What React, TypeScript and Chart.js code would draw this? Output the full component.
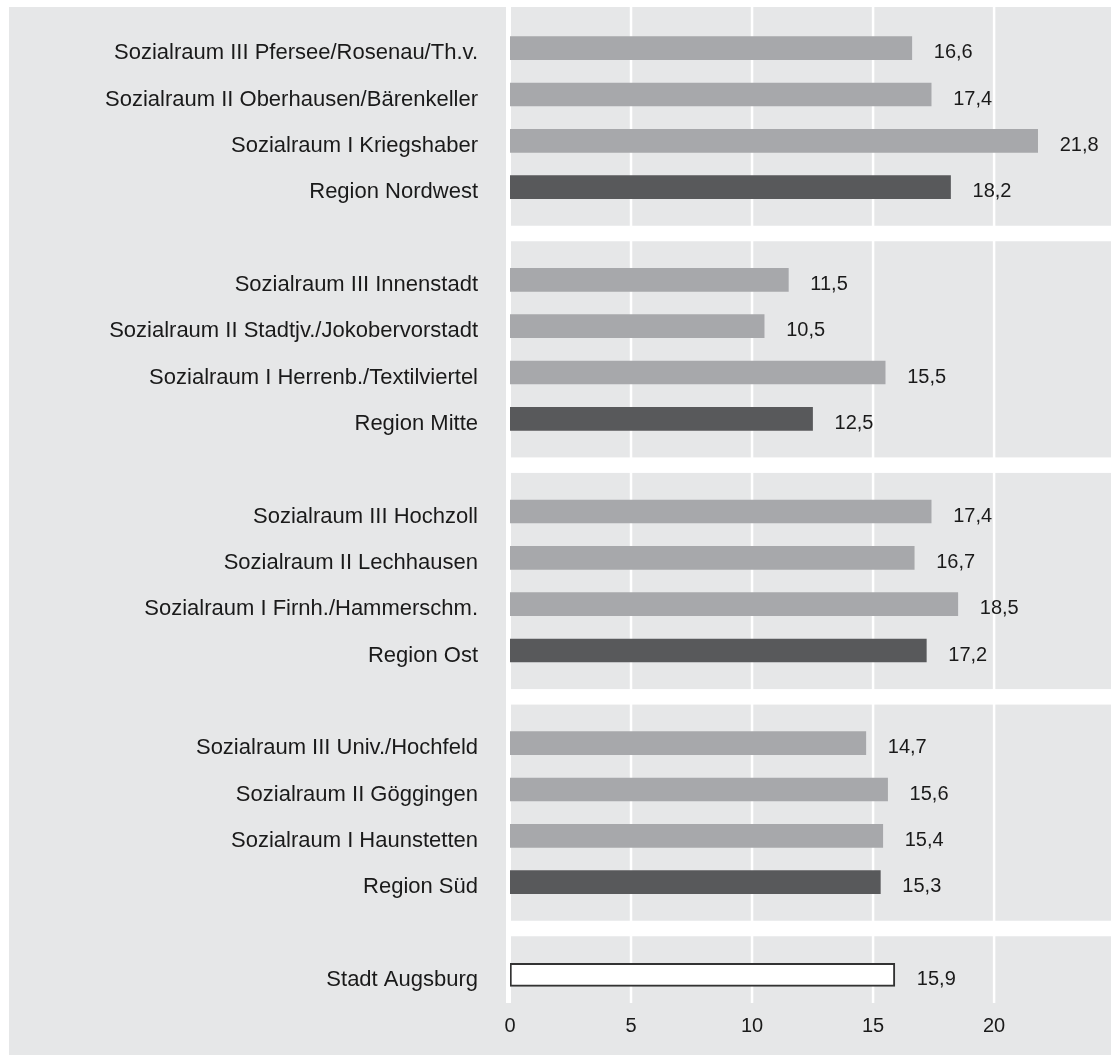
import React, { useEffect, useRef } from "react";
import { Chart, registerables } from "chart.js";

Chart.register(...registerables);

const categories = [
  "Sozialraum III Pfersee/Rosenau/Th.v.",
  "Sozialraum II Oberhausen/Bärenkeller",
  "Sozialraum I Kriegshaber",
  "Region Nordwest",
  "",
  "Sozialraum III Innenstadt",
  "Sozialraum II Stadtjv./Jokobervorstadt",
  "Sozialraum I Herrenb./Textilviertel",
  "Region Mitte",
  "",
  "Sozialraum III Hochzoll",
  "Sozialraum II Lechhausen",
  "Sozialraum I Firnh./Hammerschm.",
  "Region Ost",
  "",
  "Sozialraum III Univ./Hochfeld",
  "Sozialraum II Göggingen",
  "Sozialraum I Haunstetten",
  "Region Süd",
  "",
  "Stadt Augsburg",
];

const values: (number | null)[] = [
  16.6, 17.4, 21.8, 18.2, null,
  11.5, 10.5, 15.5, 12.5, null,
  17.4, 16.7, 18.5, 17.2, null,
  14.7, 15.6, 15.4, 15.3, null,
  15.9,
];

const kinds = [
  "sub", "sub", "sub", "region", "gap",
  "sub", "sub", "sub", "region", "gap",
  "sub", "sub", "sub", "region", "gap",
  "sub", "sub", "sub", "region", "gap",
  "city",
];

const xTicks = [0, 5, 10, 15, 20];

const BG = "#e6e7e8";
const LIGHT = "#a7a8ab";
const DARK = "#58595b";
const TEXT = "#1a1a1a";
const FONT = "'Liberation Sans', Arial, Helvetica, sans-serif";

const fmt = (v: number) => v.toFixed(1).replace(".", ",");

export default function App() {
  const ref = useRef<HTMLCanvasElement | null>(null);

  useEffect(() => {
    if (!ref.current) return;

    const decor = {
      id: "decor",
      beforeDatasetsDraw(chart: any) {
        const { ctx, scales } = chart;
        const x = scales.x;
        const y = scales.y;
        const px0 = x.getPixelForValue(0);
        const top = 0;
        const bottom = chart.chartArea.bottom + 5;
        ctx.save();
        ctx.fillStyle = "#ffffff";
        xTicks.forEach((t) => {
          const px = x.getPixelForValue(t);
          if (t === 0) ctx.fillRect(px - 4, top, 5, bottom - top);
          else ctx.fillRect(px - 1.25, top, 2.5, bottom - top);
        });
        kinds.forEach((k, i) => {
          if (k === "gap") {
            const py = y.getPixelForValue(i);
            ctx.fillRect(px0 - 4, py - 7.75, chart.width - (px0 - 4), 15.5);
          }
        });
        ctx.restore();
      },
      afterDatasetsDraw(chart: any) {
        const { ctx } = chart;
        const meta = chart.getDatasetMeta(0);
        ctx.save();
        ctx.fillStyle = TEXT;
        ctx.font = `20px ${FONT}`;
        ctx.textAlign = "left";
        ctx.textBaseline = "middle";
        meta.data.forEach((el: any, i: number) => {
          const v = values[i];
          if (v === null || v === undefined) return;
          ctx.fillText(fmt(v), el.x + 22, el.y + 4.5);
        });
        ctx.restore();
      },
    };

    const chart = new Chart(ref.current, {
      type: "bar",
      data: {
        labels: categories,
        datasets: [
          {
            data: values as any,
            backgroundColor: kinds.map((k) =>
              k === "region" ? DARK : k === "city" ? "#ffffff" : LIGHT
            ),
            borderColor: kinds.map((k) => (k === "city" ? "#333333" : "rgba(0,0,0,0)")),
            borderWidth: kinds.map((k) => (k === "city" ? 2 : 0)),
            borderSkipped: false,
            barThickness: 23,
          },
        ],
      },
      options: {
        indexAxis: "y",
        responsive: false,
        animation: false,
        layout: { padding: { top: 18, left: 0, right: 0, bottom: 0 } },
        plugins: {
          legend: { display: false },
          tooltip: { enabled: false },
          title: { display: false },
        },
        scales: {
          x: {
            type: "linear",
            min: 0,
            max: 24.83,
            grid: { display: false, drawTicks: false },
            border: { display: false },
            afterFit: (s: any) => {
              s.height = 57;
              s.paddingLeft = 0;
              s.paddingRight = 0;
            },
            ticks: {
              stepSize: 5,
              includeBounds: false,
              padding: 16,
              color: TEXT,
              font: { family: FONT, size: 20 },
              maxRotation: 0,
              autoSkip: false,
            },
          },
          y: {
            type: "category",
            grid: { display: false, drawTicks: false },
            border: { display: false },
            afterFit: (s: any) => {
              s.width = 501;
              s.paddingTop = 0;
              s.paddingBottom = 0;
            },
            ticks: {
              padding: 32,
              labelOffset: 5,
              color: TEXT,
              autoSkip: false,
              font: { family: FONT, size: 22 },
            },
          },
        },
      },
      plugins: [decor],
    } as any);

    return () => chart.destroy();
  }, []);

  return (
    <div
      style={{
        position: "absolute",
        left: 9,
        top: 7,
        width: 1102,
        height: 1048,
        background: BG,
      }}
    >
      <canvas ref={ref} width={1102} height={1048} style={{ display: "block" }} />
    </div>
  );
}
